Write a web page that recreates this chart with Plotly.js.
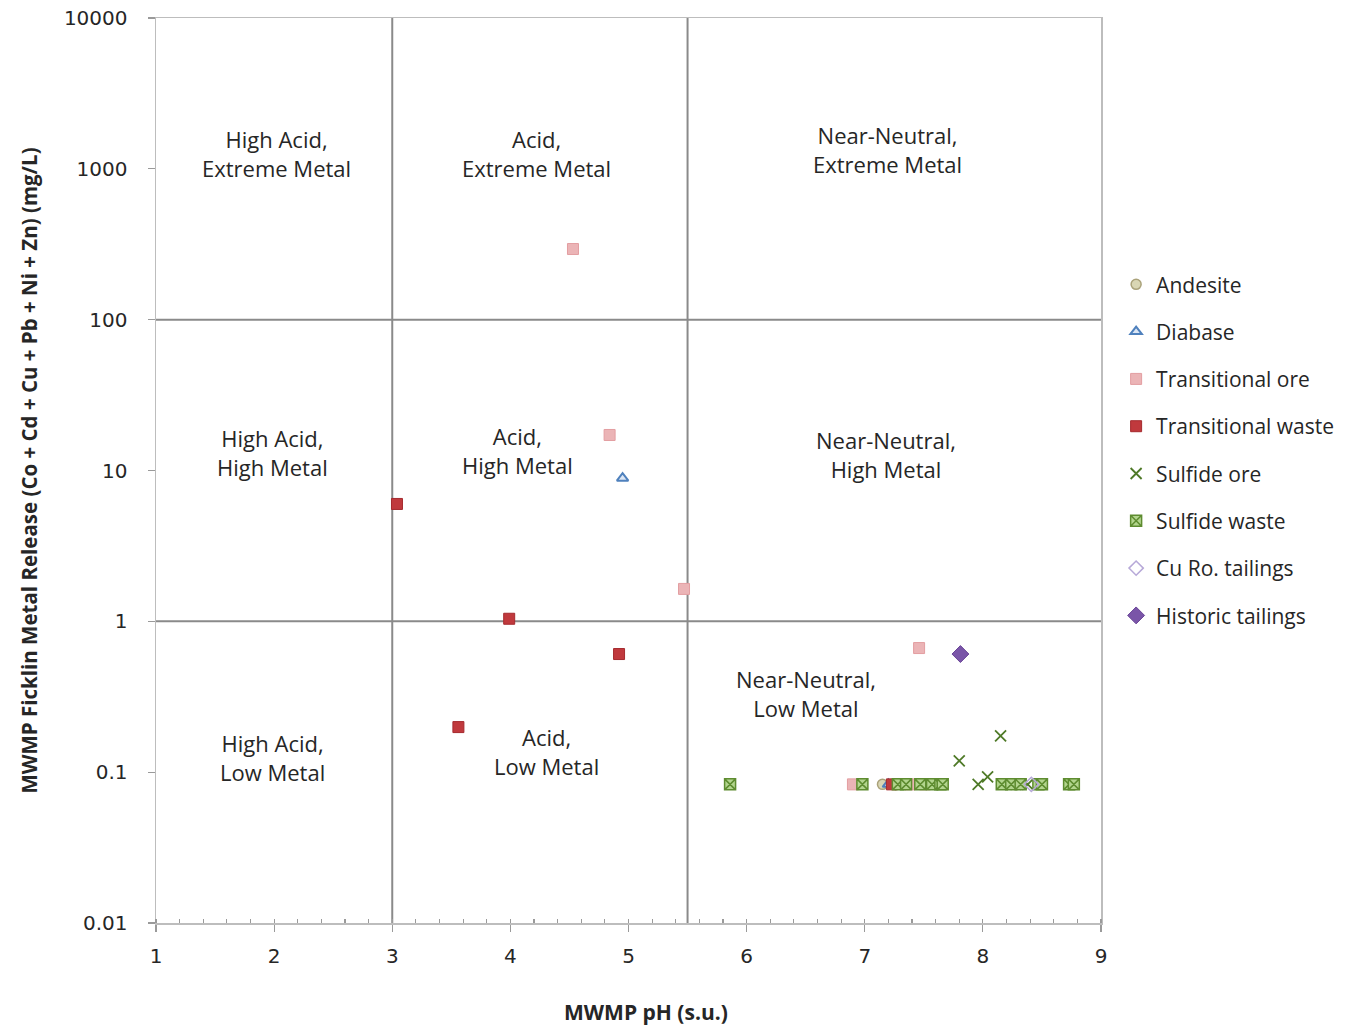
<!DOCTYPE html>
<html>
<head>
<meta charset="utf-8">
<script src="https://cdn.plot.ly/plotly-3.0.1.min.js"></script>
<style>html,body{margin:0;padding:0;background:#fff;}#chart{width:1351px;height:1030px;}</style>
</head>
<body>
<div id="chart"></div>
<script>
// ---- data ----
const andesiteX = [7.15];
const andesiteY = [0.083];
const diabaseX = [4.95, 7.20];
const diabaseY = [8.9, 0.083];
const transOreX = [4.53, 4.84, 5.47, 7.46, 6.90, 7.38, 7.51];
const transOreY = [294, 17.2, 1.64, 0.665, 0.083, 0.083, 0.083];
const transWasteX = [3.04, 3.99, 4.92, 3.56, 7.23];
const transWasteY = [6.0, 1.04, 0.607, 0.199, 0.083];
const sulfideOreX = [8.15, 7.80, 8.04, 7.96, 7.30, 8.28, 8.38];
const sulfideOreY = [0.174, 0.119, 0.093, 0.083, 0.083, 0.083, 0.083];
const sulfideWasteX = [5.86, 6.98, 7.28, 7.35, 7.47, 7.57, 7.64, 7.66, 8.16, 8.24, 8.32, 8.47, 8.50, 8.73, 8.77];
const sulfideWasteY = [0.083, 0.083, 0.083, 0.083, 0.083, 0.083, 0.083, 0.083, 0.083, 0.083, 0.083, 0.083, 0.083, 0.083, 0.083];
const cuRoX = [8.41];
const cuRoY = [0.083];
const historicX = [7.81];
const historicY = [0.607];

const seriesNames = ["Andesite", "Diabase", "Transitional ore", "Transitional waste",
  "Sulfide ore", "Sulfide waste", "Cu Ro. tailings", "Historic tailings"];

const xTitle = "MWMP pH (s.u.)";
const yTitle = "MWMP Ficklin Metal Release (Co + Cd + Cu + Pb + Ni + Zn) (mg/L)";

// quadrant boundaries
const phBreaks = [3, 5.5];
const metalBreaks = [1, 100];

// region labels
const regionLabels = [
  "High Acid,<br>Extreme Metal", "Acid,<br>Extreme Metal", "Near-Neutral,<br>Extreme Metal",
  "High Acid,<br>High Metal", "Acid,<br>High Metal", "Near-Neutral,<br>High Metal",
  "High Acid,<br>Low Metal", "Acid,<br>Low Metal", "Near-Neutral,<br>Low Metal"
];
const regionLabelX = [2.02, 4.22, 7.19, 1.99, 4.06, 7.18, 1.99, 4.31, 6.50];
const regionLabelY = [1273, 1273, 1352, 13.1, 13.5, 12.7, 0.126, 0.138, 0.330];

const xTickVals = [1, 2, 3, 4, 5, 6, 7, 8, 9];
const yTickVals = [0.01, 0.1, 1, 10, 100, 1000, 10000];
const yTickText = ["0.01", "0.1", "1", "10", "100", "1000", "10000"];

// ---- traces ----
function tr(x, y, name, marker, i) {
  return {x: x, y: y, name: name, type: "scatter", mode: "markers", marker: marker,
    legendgroup: "g" + i, cliponaxis: false};
}
const data = [
  tr(andesiteX, andesiteY, seriesNames[0], {symbol: "circle", size: 10, color: "#d9d6b4", line: {color: "#aaa27a", width: 1.5}}, 0),
  tr(diabaseX, diabaseY, seriesNames[1], {symbol: "triangle-up", size: 10, color: "#dbe6f5", line: {color: "#4f81bd", width: 2}}, 1),
  tr(transOreX, transOreY, seriesNames[2], {symbol: "square", size: 11, color: "#ebb4b6", line: {color: "#e39ea1", width: 1}}, 2),
  tr(transWasteX, transWasteY, seriesNames[3], {symbol: "square", size: 11, color: "#c0393d", line: {color: "#a52a2e", width: 1}}, 3),
  tr(sulfideOreX, sulfideOreY, seriesNames[4], {symbol: "x-thin-open", size: 11, color: "#4f7a28", line: {color: "#4f7a28", width: 1.8}}, 4),
  tr(sulfideWasteX, sulfideWasteY, seriesNames[5], {symbol: "square-x", size: 11, color: "#b3d58e", line: {color: "#5e8c30", width: 1.5}}, 5),
  tr(cuRoX, cuRoY, seriesNames[6], {symbol: "diamond-open", size: 11, color: "#b7a9d8", line: {color: "#b7a9d8", width: 1.5}}, 6),
  tr(historicX, historicY, seriesNames[7], {symbol: "diamond", size: 13, color: "#7a55a8", line: {color: "#6a4598", width: 1}}, 7)
];

// ---- shapes for quadrant lines ----
const shapes = [];
phBreaks.forEach(v => shapes.push({type: "line", xref: "x", yref: "paper", x0: v, x1: v, y0: 0, y1: 1,
  line: {color: "#8a8a8a", width: 2}, layer: "below"}));
metalBreaks.forEach(v => shapes.push({type: "line", xref: "paper", yref: "y", x0: 0, x1: 1, y0: v, y1: v,
  line: {color: "#8a8a8a", width: 2}, layer: "below"}));

const annotations = regionLabels.map((t, i) => ({
  x: regionLabelX[i], y: Math.log10(regionLabelY[i]), xref: "x", yref: "y",
  text: t, showarrow: false, align: "center",
  font: {family: "Open Sans, Noto Sans, sans-serif", size: 22, color: "#262626"}
}));
// x-axis title (slightly right of the plot centre, as in the reference)
annotations.push({
  x: 0.5185, y: -0.0985, xref: "paper", yref: "paper", xanchor: "center", yanchor: "middle",
  text: "<b>" + xTitle + "</b>", showarrow: false,
  font: {family: "Open Sans, Noto Sans, sans-serif", size: 21, color: "#262626"}
});

const layout = {
  width: 1351, height: 1030,
  margin: {l: 156, r: 250, t: 18, b: 107, autoexpand: false},
  paper_bgcolor: "#ffffff", plot_bgcolor: "#ffffff",
  showlegend: true,
  legend: {x: 1.016, y: 0.728, xanchor: "left", yanchor: "top", tracegroupgap: 17,
    font: {family: "Open Sans, Noto Sans, sans-serif", size: 21, color: "#262626"},
    itemwidth: 30, bgcolor: "rgba(0,0,0,0)"},
  xaxis: {
    range: [1, 9], tickvals: xTickVals, showgrid: false, zeroline: false,
    showline: true, linecolor: "#bdbdbd", linewidth: 1.5, mirror: true,
    ticks: "outside", ticklen: 7, tickcolor: "#9a9a9a", tickwidth: 1.2,
    minor: {dtick: 0.2, ticks: "inside", ticklen: 4, tickcolor: "#9a9a9a", showgrid: false},
    tickfont: {family: "DejaVu Sans, sans-serif", size: 20, color: "#262626"},
    ticklabelstandoff: 7
  },
  yaxis: {
    type: "log", range: [-2, 4], tickvals: yTickVals, ticktext: yTickText,
    showgrid: false, zeroline: false,
    showline: true, linecolor: "#bdbdbd", linewidth: 1.5, mirror: true,
    ticks: "outside", ticklen: 7, tickcolor: "#9a9a9a", tickwidth: 1.2,
    tickfont: {family: "DejaVu Sans, sans-serif", size: 20, color: "#262626"},
    ticklabelstandoff: 16,
    title: {text: yTitle, standoff: 20,
      font: {family: "Open Sans, Noto Sans, sans-serif", size: 20.5, color: "#262626", weight: "bold"}}
  },
  shapes: shapes,
  annotations: annotations
};

Plotly.newPlot("chart", data, layout, {displayModeBar: false, staticPlot: true});
</script>
</body>
</html>
